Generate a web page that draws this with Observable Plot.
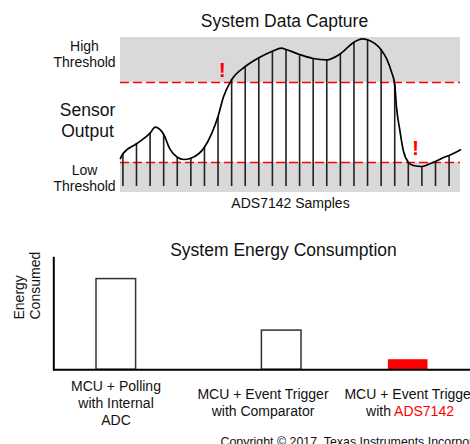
<!DOCTYPE html>
<html><head><meta charset="utf-8">
<script src="https://cdn.jsdelivr.net/npm/d3@7"></script>
<script src="https://cdn.jsdelivr.net/npm/@observablehq/plot@0.6"></script>
<style>
html,body{margin:0;padding:0;background:#fff;overflow:hidden;}
#wrap{position:relative;width:470px;height:444px;}
#top,#bottom{position:absolute;left:0;}
#top{top:0;} #bottom{top:215px;}
</style></head><body>
<div id="wrap"><div id="top"></div><div id="bottom"></div></div>
<script>
// ---- Top panel data: sensor output sampled by ADS7142 ----
const sampleValues = [38.7, 48.7, 59.3, 58, 35.3, 34.3, 45.3, 76, 112.7, 126, 134.7, 141.3, 143, 138, 134, 132.7, 138.7, 150.3, 152.7, 142.7, 108, 30.3, 26, 31, 37];
const signalExtraT = [-0.18, 2.37, 3.45, 4.48, 6.52, 7.39, 11.67, 17.6, 19.41, 19.77, 20.13, 20.38, 20.63, 21.37, 22.46, 23.79, 24.84];
const signalExtraV = [34, 65.3, 43.7, 33, 58.7, 95.3, 144.3, 153.7, 133.7, 120.3, 85.3, 62, 42, 27, 28, 36, 42.7];
const highThreshold = 110;
const lowThreshold = 30;
const rangeMax = 155;
const stemBase = 6;
const alertT = [7.31, 21.53];
const alertV = [116, 38];
const topTitle = "System Data Capture";
const topXLabel = "ADS7142 Samples";
const leftLabels = ["High\nThreshold", "Sensor\nOutput", "Low\nThreshold"];

// ---- Bottom panel data: energy consumption ----
const categories = ["MCU + Polling\nwith Internal\nADC", "MCU + Event Trigger\nwith Comparator", "MCU + Event Trigger\nwith ADS7142"];
const energyValues = [81, 35, 9];
const bottomTitle = "System Energy Consumption";
const yLabel = "Energy\nConsumed";
const highlightTerm = "ADS7142";
const copyright = "Copyright © 2017, Texas Instruments Incorporated";

// styles (not data)
const barFills = ["white", "white", "#ff0000"];
const barStrokes = ["#333", "#333", "none"];
const barShift = [0.3, 18.7, -1.8];
const font = "'Liberation Sans', Arial, Helvetica, sans-serif";

const signal = [
  ...sampleValues.map((v, i) => ({t: i, v})),
  ...signalExtraT.map((t, k) => ({t, v: signalExtraV[k]}))
].sort((a, b) => a.t - b.t);

const topChart = Plot.plot({
  width: 470, height: 215,
  marginTop: 37, marginBottom: 23, marginLeft: 120, marginRight: 10,
  x: {domain: [-0.177, 24.84], axis: null},
  y: {domain: [0, rangeMax], axis: null},
  style: {fontFamily: font, fontSize: "14px", background: "white", color: "#111"},
  marks: [
    Plot.rect([{y1: highThreshold, y2: rangeMax}, {y1: 0, y2: lowThreshold}], {y1: "y1", y2: "y2", fill: "#d9d9d9"}),
    Plot.ruleY([highThreshold, lowThreshold], {stroke: "#ff0000", strokeWidth: 1.6, strokeDasharray: "9,4"}),
    Plot.ruleX(sampleValues, {x: (d, i) => i, y1: stemBase, y2: d => d, stroke: "#222", strokeWidth: 1.6}),
    Plot.line(signal, {x: "t", y: "v", curve: "monotone-x", stroke: "black", strokeWidth: 1.7}),
    Plot.text(alertT, {x: d => d, y: (d, i) => alertV[i], text: () => "!", fill: "#ff0000", fontWeight: "bold", fontSize: 21, lineAnchor: "bottom"}),
    Plot.text([topTitle], {frameAnchor: "top", dx: -6, dy: -10.5, lineAnchor: "bottom", fontSize: 17.5}),
    Plot.text([topXLabel], {frameAnchor: "bottom", dy: 15.3, lineAnchor: "bottom", fontSize: 14}),
    Plot.text([leftLabels[0]], {frameAnchor: "left", y: highThreshold, dx: -36, dy: -15.3, textAnchor: "middle", lineAnchor: "bottom", fontSize: 14, lineHeight: 1.19}),
    Plot.text([leftLabels[1]], {frameAnchor: "left", y: (highThreshold + lowThreshold) / 2, dx: -33, dy: 14, textAnchor: "middle", lineAnchor: "bottom", fontSize: 17.5, lineHeight: 1.2}),
    Plot.text([leftLabels[2]], {frameAnchor: "left", y: lowThreshold, dx: -36, dy: 28.7, textAnchor: "middle", lineAnchor: "bottom", fontSize: 14, lineHeight: 1.19})
  ]
});
document.getElementById("top").appendChild(topChart);

const bottomChart = Plot.plot({
  width: 470, height: 229,
  marginTop: 42.3, marginBottom: 74.7, marginLeft: 53.3, marginRight: 0,
  x: {domain: categories, range: [41.5, 482.5], padding: 0, axis: null},
  y: {domain: [0, 100], axis: null},
  style: {fontFamily: font, fontSize: "14px", background: "white", color: "#111"},
  marks: [
    ...categories.map((c, i) => Plot.barY([{c, v: energyValues[i]}], {
      x: "c", y: "v", dx: barShift[i], fill: barFills[i], stroke: barStrokes[i], strokeWidth: 1.5,
      insetLeft: 53.7, insetRight: 53.7
    })),
    Plot.ruleY([0], {stroke: "black", strokeWidth: 2}),
    Plot.frame({anchor: "left", stroke: "black", strokeWidth: 2}),
    Plot.text([bottomTitle], {frameAnchor: "top", dx: 21.35, dy: -1.6, lineAnchor: "bottom", fontSize: 17.5}),
    Plot.text([yLabel], {frameAnchor: "left", rotate: -90, dx: -27.1, dy: 5.7, lineAnchor: "middle", lineHeight: 1.157, fontSize: 14}),
    Plot.text(categories, {x: d => d, frameAnchor: "bottom", dy: 32.5, lineAnchor: "middle", lineHeight: 1.22, fontSize: 14}),
    Plot.text([copyright], {frameAnchor: "bottom-left", dx: 166.7, dy: 76.2, textAnchor: "start", lineAnchor: "bottom", fontSize: 12.4})
  ]
});
bottomChart.querySelectorAll("tspan").forEach(ts => {
  const s = ts.textContent;
  if (s.endsWith(highlightTerm) && s !== highlightTerm) {
    ts.textContent = s.slice(0, s.length - highlightTerm.length);
    const red = document.createElementNS("http://www.w3.org/2000/svg", "tspan");
    red.setAttribute("fill", "#ff0000");
    red.textContent = highlightTerm;
    ts.appendChild(red);
  }
});
document.getElementById("bottom").appendChild(bottomChart);
</script>
</body></html>
